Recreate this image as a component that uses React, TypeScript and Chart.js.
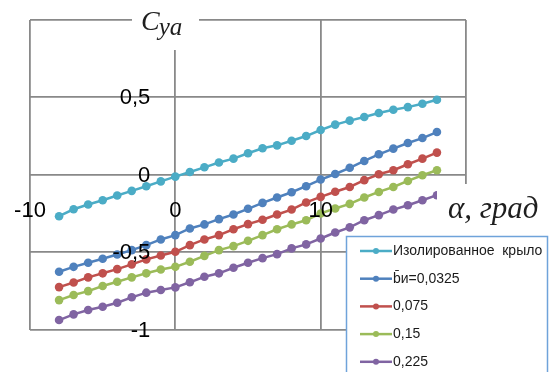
import React, { useEffect, useRef } from "react";
import { Chart, registerables } from "chart.js";

Chart.register(...registerables);

const alphaValues = [-8, -7, -6, -5, -4, -3, -2, -1, 0, 1, 2, 3, 4, 5, 6, 7, 8, 9, 10, 11, 12, 13, 14, 15, 16, 17, 18];
const isolatedWing = [-0.268, -0.223, -0.192, -0.165, -0.134, -0.104, -0.074, -0.043, -0.012, 0.018, 0.048, 0.079, 0.104, 0.139, 0.171, 0.19, 0.22, 0.25, 0.289, 0.324, 0.35, 0.373, 0.399, 0.42, 0.437, 0.459, 0.485];
const bi0325 = [-0.627, -0.595, -0.569, -0.543, -0.515, -0.487, -0.455, -0.418, -0.39, -0.347, -0.321, -0.287, -0.257, -0.22, -0.182, -0.147, -0.113, -0.074, -0.031, 0.005, 0.045, 0.089, 0.132, 0.169, 0.205, 0.237, 0.276];
const bi075 = [-0.726, -0.696, -0.663, -0.637, -0.61, -0.579, -0.547, -0.522, -0.498, -0.455, -0.418, -0.39, -0.352, -0.319, -0.291, -0.257, -0.225, -0.179, -0.143, -0.11, -0.079, -0.035, 0.003, 0.029, 0.068, 0.104, 0.143];
const bi15 = [-0.81, -0.777, -0.752, -0.719, -0.691, -0.663, -0.637, -0.612, -0.595, -0.562, -0.524, -0.487, -0.461, -0.427, -0.39, -0.352, -0.321, -0.294, -0.25, -0.218, -0.188, -0.147, -0.111, -0.079, -0.04, -0.003, 0.029];
const bi225 = [-0.939, -0.902, -0.874, -0.853, -0.827, -0.792, -0.762, -0.745, -0.728, -0.695, -0.659, -0.637, -0.601, -0.569, -0.539, -0.513, -0.476, -0.45, -0.412, -0.373, -0.34, -0.294, -0.261, -0.225, -0.197, -0.165, -0.132];

const seriesLabels = ["Изолированное  крыло", "b\u0304и=0,0325", "0,075", "0,15", "0,225"];
const seriesColors = ["#4BACC6", "#4F81BD", "#C0504D", "#9BBB59", "#8064A2"];
const xTickLabels = [-10, 0, 10];
const yTickLabels = [0.5, 0, -0.5, -1];
const yTitle = ["C", "ya"];
const xTitle = "α, град";

const fmt = (v: number) => String(v).replace(".", ",");

const overlayPlugin = {
  id: "overlay",
  afterDraw(chart: any) {
    const ctx = chart.ctx as CanvasRenderingContext2D;
    const xs = chart.scales.x;
    const ys = chart.scales.y;
    const x0 = xs.getPixelForValue(0);
    const y0 = ys.getPixelForValue(0);
    ctx.save();

    // white boxes behind titles
    ctx.fillStyle = "#ffffff";
    ctx.fillRect(132, 0, 67, 50);
    ctx.fillRect(437, 184, 113, 52);

    // tick labels
    ctx.fillStyle = "#000000";
    ctx.font = "22px 'Liberation Sans', Arial, sans-serif";
    ctx.textBaseline = "middle";
    ctx.textAlign = "right";
    for (const v of yTickLabels) {
      ctx.fillText(fmt(v), x0 - 25, ys.getPixelForValue(v) + 1);
    }
    ctx.textAlign = "center";
    for (const v of xTickLabels) {
      ctx.fillText(fmt(v), xs.getPixelForValue(v), y0 + 36);
    }

    // y title
    ctx.fillStyle = "#1e1e1e";
    ctx.textAlign = "left";
    ctx.textBaseline = "alphabetic";
    ctx.font = "italic 28px 'Liberation Serif', serif";
    ctx.fillText(yTitle[0], 141, 30);
    const cw = ctx.measureText(yTitle[0]).width;
    ctx.font = "italic 25px 'Liberation Serif', serif";
    ctx.fillText(yTitle[1], 141 + cw - 1, 35);

    // x title
    ctx.font = "italic 31px 'Liberation Serif', serif";
    ctx.fillText(xTitle, 448, 218);

    // legend
    ctx.fillStyle = "#ffffff";
    ctx.fillRect(346, 236, 202, 140);
    ctx.strokeStyle = "#6FA3DA";
    ctx.lineWidth = 1.5;
    ctx.strokeRect(346.5, 236.5, 201, 150);
    ctx.font = "14px 'Liberation Sans', Arial, sans-serif";
    ctx.textBaseline = "middle";
    chart.data.datasets.forEach((ds: any, i: number) => {
      const yy = 251 + i * 27.7;
      ctx.strokeStyle = ds.borderColor;
      ctx.lineWidth = 2.5;
      ctx.beginPath();
      ctx.moveTo(360, yy);
      ctx.lineTo(392, yy);
      ctx.stroke();
      ctx.fillStyle = ds.borderColor;
      ctx.beginPath();
      ctx.arc(376, yy, 3, 0, Math.PI * 2);
      ctx.fill();
      ctx.fillStyle = "#1a1a1a";
      ctx.fillText(ds.label, 393, yy);
    });
    ctx.restore();
  },
};

export default function App() {
  const ref = useRef<HTMLCanvasElement>(null);
  useEffect(() => {
    if (!ref.current) return;
    const seriesData = [isolatedWing, bi0325, bi075, bi15, bi225];
    const chart = new Chart(ref.current, {
      type: "line",
      data: {
        datasets: seriesData.map((vals, i) => ({
          label: seriesLabels[i],
          data: alphaValues.map((a, j) => ({ x: a, y: vals[j] })),
          borderColor: seriesColors[i],
          backgroundColor: seriesColors[i],
          pointBackgroundColor: seriesColors[i],
          pointBorderWidth: 0,
          pointRadius: 4.3,
          borderWidth: 2.5,
          tension: 0,
        })),
      },
      options: {
        animation: false,
        responsive: false,
        devicePixelRatio: 1,
        layout: { padding: { left: 30, top: 20, right: 84, bottom: 42.5 } },
        plugins: { legend: { display: false }, tooltip: { enabled: false } },
        scales: {
          x: {
            type: "linear",
            min: -10,
            max: 20,
            ticks: { display: false, stepSize: 10 },
            grid: { color: "#898989", lineWidth: 1.8, drawTicks: false },
            border: { display: false },
          },
          y: {
            type: "linear",
            min: -1,
            max: 1,
            ticks: { display: false, stepSize: 0.5 },
            grid: { color: "#898989", lineWidth: 1.8, drawTicks: false },
            border: { display: false },
          },
        },
      },
      plugins: [overlayPlugin],
    });
    return () => chart.destroy();
  }, []);
  return (
    <div style={{ position: "absolute", left: 0, top: 0, width: 550, height: 372, background: "#fff" }}>
      <canvas ref={ref} width={550} height={372} style={{ width: 550, height: 372 }} />
    </div>
  );
}
